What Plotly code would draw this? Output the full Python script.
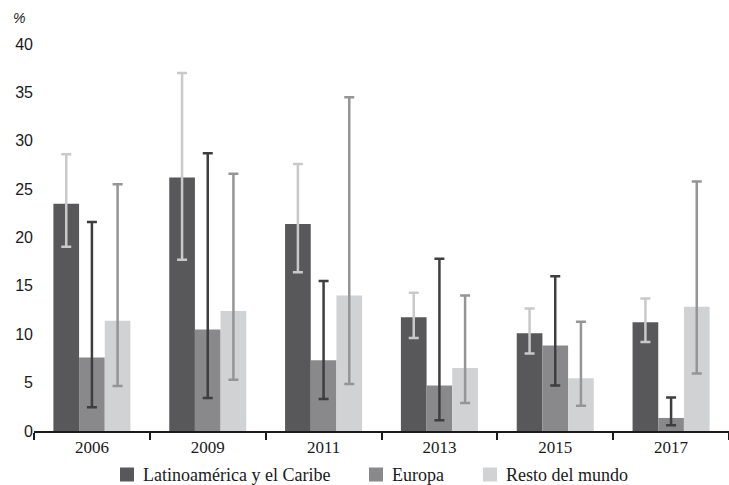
import plotly.graph_objects as go

years = ["2006", "2009", "2011", "2013", "2015", "2017"]
series_names = ["Latinoamérica y el Caribe", "Europa", "Resto del mundo"]

latam = [23.5, 26.2, 21.4, 11.75, 10.1, 11.25]
latam_hi = [28.6, 37.0, 27.6, 14.3, 12.65, 13.7]
latam_lo = [19.05, 17.7, 16.4, 9.6, 8.0, 9.2]

europa = [7.6, 10.5, 7.3, 4.7, 8.85, 1.35]
europa_hi = [21.6, 28.7, 15.5, 17.8, 16.0, 3.45]
europa_lo = [2.45, 3.4, 3.3, 1.1, 4.7, 0.6]

resto = [11.4, 12.4, 14.0, 6.5, 5.45, 12.85]
resto_hi = [25.5, 26.6, 34.5, 14.0, 11.3, 25.8]
resto_lo = [4.65, 5.3, 4.85, 2.9, 2.6, 5.95]

bar_colors = ["#58585a", "#89898b", "#d1d2d3"]
err_colors = ["#c9c9cb", "#3e3e40", "#959597"]

W, H = 729, 485
ML, MR, MT, MB = 34, 0, 44, 54
PW, PH = W - ML - MR, H - MT - MB

fig = go.Figure()
for name, vals, hi, lo, bc, ec in zip(
    series_names,
    [latam, europa, resto],
    [latam_hi, europa_hi, resto_hi],
    [latam_lo, europa_lo, resto_lo],
    bar_colors, err_colors,
):
    fig.add_trace(go.Bar(
        x=years, y=vals, name=name,
        marker=dict(color=bc, line=dict(width=0)),
        error_y=dict(
            type="data", symmetric=False,
            array=[h - v for h, v in zip(hi, vals)],
            arrayminus=[v - l for v, l in zip(vals, lo)],
            color=ec, thickness=2.5, width=5,
        ),
    ))

# legend drawn manually for exact placement (pixel positions converted to paper coords)
def px_x(p):
    return (p - ML) / PW

def px_y(p):
    return (H - MB - p) / PH

legend_square_x = [120, 369, 483]
legend_y_center = 474.5
shapes = []
annotations = []
for name, color, sx in zip(series_names, bar_colors, legend_square_x):
    shapes.append(dict(
        type="rect", xref="paper", yref="paper",
        x0=px_x(sx), x1=px_x(sx + 14),
        y0=px_y(legend_y_center + 7), y1=px_y(legend_y_center - 7),
        fillcolor=color, line=dict(width=0),
    ))
    annotations.append(dict(
        text=name, xref="paper", yref="paper", x=px_x(sx + 21), y=px_y(legend_y_center),
        showarrow=False, xanchor="left", yanchor="middle",
        font=dict(family="Liberation Serif", size=18, color="#1a1a1a"),
    ))

annotations.append(dict(
    text="<i>%</i>", xref="paper", yref="paper", x=px_x(11), y=px_y(18),
    showarrow=False, xanchor="left", yanchor="middle",
    font=dict(family="Liberation Sans", size=14, color="#1a1a1a"),
))

fig.update_layout(
    width=W, height=H,
    barmode="group", bargap=0.335, bargroupgap=0,
    plot_bgcolor="white", paper_bgcolor="white",
    margin=dict(l=ML, r=MR, t=MT, b=MB, autoexpand=False),
    font=dict(family="Liberation Serif", size=17, color="#1a1a1a"),
    showlegend=False,
    xaxis=dict(
        type="category", showline=True, linecolor="#1a1a1a", linewidth=1.5,
        ticks="outside", tickson="boundaries", ticklen=7, tickcolor="#1a1a1a",
        tickwidth=1.5, showgrid=False,
        tickfont=dict(family="Liberation Serif", size=17),
    ),
    yaxis=dict(
        range=[0, 40], dtick=5, showgrid=False, showline=False, zeroline=False,
        ticks="", tickfont=dict(family="Liberation Sans", size=16),
    ),
    shapes=shapes,
    annotations=annotations,
)

fig.write_html("out.html", config={"displayModeBar": False},
               post_script="document.body.style.margin='0';")
